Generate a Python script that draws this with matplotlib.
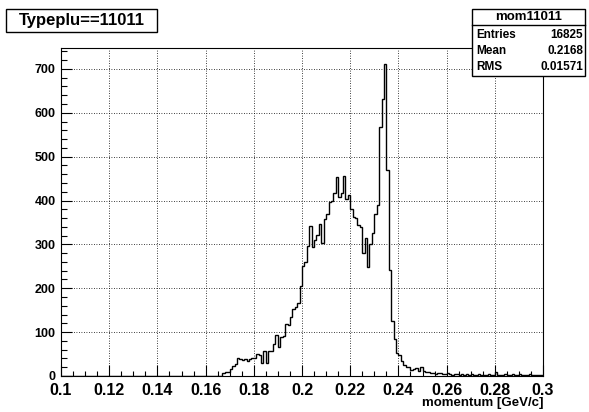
import matplotlib
matplotlib.use("Agg")
import matplotlib.pyplot as plt
from matplotlib.patches import Rectangle
from matplotlib.ticker import MultipleLocator
import numpy as np

plt.rcParams['font.family'] = ['Liberation Sans', 'DejaVu Sans']
plt.rcParams['font.weight'] = 'bold'

# histogram mom11011: 200 bins between 0.1 and 0.3 GeV/c
x_lo, x_hi, n_bins = 0.1, 0.3, 200
counts = [0] * 67 + [
    6, 8, 10, 16, 22, 28, 42, 39, 36, 39,            # 0.167 - 0.176
    34, 38, 41, 41, 50, 47, 29, 57, 29, 58,          # 0.177 - 0.186
    58, 73, 94, 67, 88, 91, 119, 116, 135, 152,      # 0.187 - 0.196
    158, 166, 204,                                   # 0.197 - 0.199
    250, 259, 297, 342, 294, 310, 322, 347, 303, 358,  # 0.200 - 0.209
    370, 396, 398, 416, 454, 408, 417, 455, 403, 413,  # 0.210 - 0.219
    381, 362, 360, 345, 340, 280, 315, 248, 302, 325,  # 0.220 - 0.229
    370, 390, 568, 632, 712, 470, 242, 125, 84, 52,    # 0.230 - 0.239
    48, 35, 25, 21, 21, 14, 15, 19, 11, 21,            # 0.240 - 0.249
    11, 8, 10, 6, 7, 5, 6, 6, 5, 4,                    # 0.250 - 0.259
    6, 4, 3, 5, 4, 3, 4, 3, 5, 3,                      # 0.260 - 0.269
    4, 3, 2, 4, 3, 2, 3, 5, 2, 3,                      # 0.270 - 0.279
    8, 2, 3, 2, 4, 3, 2, 5, 3, 2,                      # 0.280 - 0.289
    4, 3, 2, 3, 5, 2, 3, 2, 3, 2,                      # 0.290 - 0.299
]

title = "Typeplu==11011"
stat_name = "mom11011"
stat_rows = [("Entries", "16825"), ("Mean", "0.2168"), ("RMS", "0.01571")]
x_ticks = [0.1, 0.12, 0.14, 0.16, 0.18, 0.2, 0.22, 0.24, 0.26, 0.28, 0.3]
x_tick_labels = ["0.1", "0.12", "0.14", "0.16", "0.18", "0.2", "0.22", "0.24",
                 "0.26", "0.28", "0.3"]
x_label = "momentum [GeV/c]"

W, H = 589, 412
fig = plt.figure(figsize=(W / 100, H / 100), dpi=100)
fig.patch.set_facecolor("white")

# axes frame in pixels: left 61, right 543, top 48, bottom 376
ax = fig.add_axes([61 / W, 1 - 376 / H, (543 - 61) / W, (376 - 48) / H])

edges = np.linspace(x_lo, x_hi, n_bins + 1)
ax.stairs(counts, edges, color="black", linewidth=1.0)

ax.set_xlim(x_lo, x_hi)
ax.set_ylim(0, max(counts) * 1.05)

ax.set_xticks(x_ticks)
ax.set_xticklabels(x_tick_labels)
ax.xaxis.set_minor_locator(MultipleLocator(0.005))
ax.yaxis.set_major_locator(MultipleLocator(100))
ax.yaxis.set_minor_locator(MultipleLocator(20))

ax.tick_params(which="both", direction="in", top=False, right=False,
               width=0.8, color="black")
ax.tick_params(axis="x", which="major", length=8, pad=5, labelsize=11.5)
ax.tick_params(axis="x", which="minor", length=3.5)
ax.tick_params(axis="y", which="major", length=8, pad=4, labelsize=9)
ax.tick_params(axis="y", which="minor", length=4.5)
for lab in ax.get_xticklabels() + ax.get_yticklabels():
    lab.set_fontweight("bold")

ax.grid(True, which="major", color="black", linestyle=(0, (1, 2)), linewidth=0.6)
for sp in ax.spines.values():
    sp.set_linewidth(0.8)

fig.text(543 / W, 1 - 403 / H, x_label, ha="right", va="center",
         fontsize=9.5, fontweight="bold")

# title box
fig.patches.append(Rectangle((6 / W, 1 - 32 / H), 151 / W, 23 / H,
                             transform=fig.transFigure, facecolor="white",
                             edgecolor="black", linewidth=1.0))
fig.text(81.5 / W, 1 - 20.5 / H, title, ha="center", va="center",
         fontsize=12, fontweight="bold")

# stats box
bx0, bx1, by0, by1 = 472, 585, 9, 76
fig.patches.append(Rectangle((bx0 / W, 1 - by1 / H), (bx1 - bx0) / W,
                             (by1 - by0) / H, transform=fig.transFigure,
                             facecolor="white", edgecolor="black",
                             linewidth=1.0, zorder=5))
fig.lines.append(plt.Line2D([bx0 / W, bx1 / W], [1 - 25 / H, 1 - 25 / H],
                            transform=fig.transFigure, color="black",
                            linewidth=1.0, zorder=6))
fig.text((bx0 + bx1) / 2 / W, 1 - 17.3 / H, stat_name, ha="center",
         va="center", fontsize=9.5, fontweight="bold", zorder=7)
row_y = [35, 51.5, 66.5]
for (name, val), yy in zip(stat_rows, row_y):
    fig.text((bx0 + 4) / W, 1 - yy / H, name, ha="left", va="center",
             fontsize=8.5, fontweight="bold", zorder=7)
    fig.text((bx1 - 2) / W, 1 - yy / H, val, ha="right", va="center",
             fontsize=8.5, fontweight="bold", zorder=7)

fig.savefig("out.png", dpi=100)
